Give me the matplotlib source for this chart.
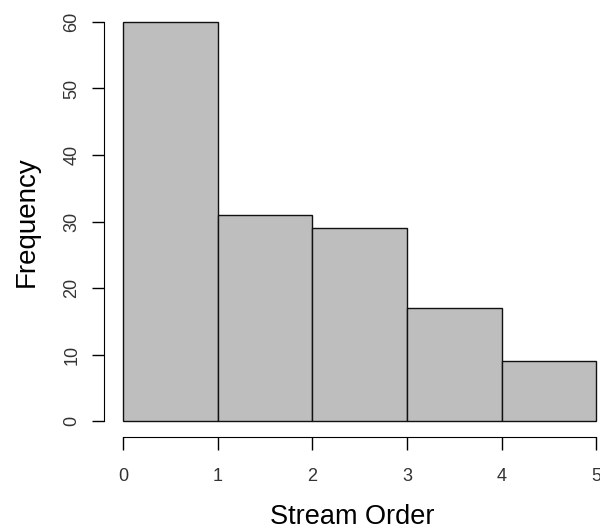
import matplotlib
import matplotlib.pyplot as plt

matplotlib.use('Agg')

# histogram of stream orders, counts per unit bin
bin_edges = [0, 1, 2, 3, 4, 5]
counts = [60, 31, 29, 17, 9]
x_ticks = [0, 1, 2, 3, 4, 5]
y_ticks = [0, 10, 20, 30, 40, 50, 60]

plt.rcParams['font.family'] = ['Liberation Sans', 'DejaVu Sans']

fig = plt.figure(figsize=(6.0, 5.29), dpi=100)
ax = fig.add_axes([104 / 600, 92 / 529, 496 / 600, 431 / 529])

ax.bar(bin_edges[:-1], counts, width=[b - a for a, b in zip(bin_edges[:-1], bin_edges[1:])],
       align='edge', color='#bebebe', edgecolor='#111111', linewidth=1.0)

# R-style axes: padded limits, axis lines only between first and last tick
ax.set_xlim(-0.2, 5.04)
ax.set_ylim(-2.4, 62.4)
for side in ['top', 'right']:
    ax.spines[side].set_visible(False)
ax.spines['left'].set_bounds(y_ticks[0], y_ticks[-1])
ax.spines['bottom'].set_bounds(x_ticks[0], x_ticks[-1])

ax.set_xticks(x_ticks)
ax.set_yticks(y_ticks)
ax.set_yticklabels([str(v) for v in y_ticks], rotation=90, va='center')
ax.tick_params(axis='both', length=9, width=1.0, labelsize=13, labelcolor='#333333')
ax.tick_params(axis='x', pad=13)
ax.tick_params(axis='y', pad=8)

ax.set_xlabel('Stream Order', fontsize=19.5, labelpad=14)
ax.set_ylabel('Frequency', fontsize=20, labelpad=17)

fig.savefig('out.png', dpi=100)
plt.close(fig)
